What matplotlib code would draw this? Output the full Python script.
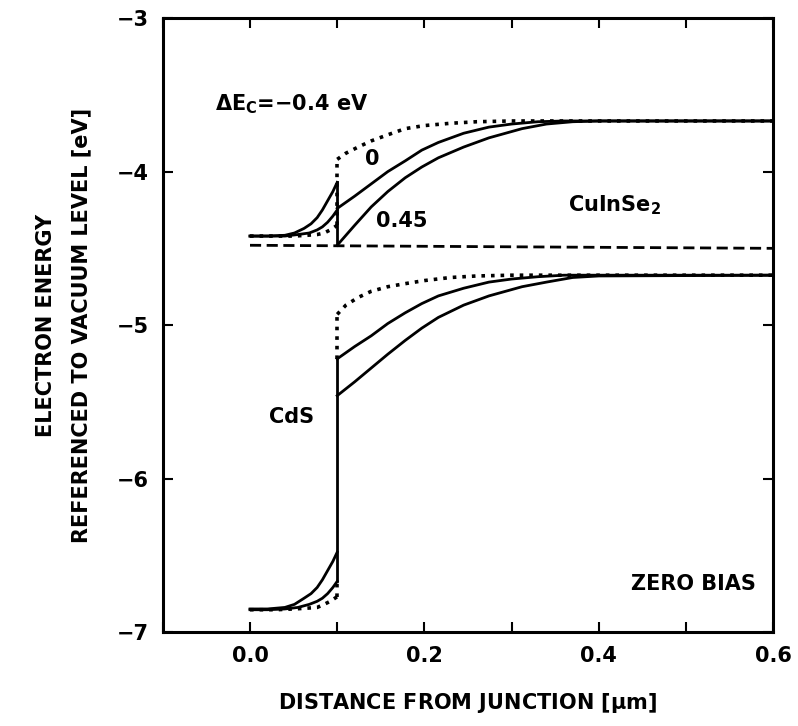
import numpy as np
import matplotlib.pyplot as plt
from matplotlib.ticker import MultipleLocator

# junction position [um]
xj = 0.1

# CdS side (x < xj), conduction band, one curve per offset
cds_x_045 = [0.0, 0.02, 0.04, 0.051, 0.062, 0.070, 0.077, 0.083, 0.089, 0.095, 0.100]
cds_cb_045 = [-4.42, -4.42, -4.415, -4.40, -4.37, -4.34, -4.30, -4.25, -4.19, -4.13, -4.07]
cds_x_0 = [0.0, 0.02, 0.04, 0.055, 0.068, 0.077, 0.083, 0.089, 0.095, 0.100]
cds_cb_0 = [-4.42, -4.42, -4.42, -4.41, -4.40, -4.38, -4.36, -4.33, -4.29, -4.25]
cds_x_m04 = [0.0, 0.03, 0.05, 0.065, 0.077, 0.085, 0.092, 0.100]
cds_cb_m04 = [-4.42, -4.42, -4.42, -4.415, -4.41, -4.40, -4.38, -4.35]

# CdS side, valence band
cds_vb_045 = [-6.85, -6.85, -6.84, -6.82, -6.78, -6.75, -6.71, -6.66, -6.60, -6.54, -6.48]
cds_vb_0 = [-6.855, -6.855, -6.85, -6.84, -6.82, -6.80, -6.78, -6.75, -6.71, -6.67]
cds_vb_m04 = [-6.855, -6.855, -6.85, -6.845, -6.84, -6.82, -6.80, -6.77]

# CuInSe2 side (x > xj)
cis_x_m04 = [0.100, 0.110, 0.124, 0.139, 0.158, 0.178, 0.200, 0.230, 0.260, 0.300, 0.600]
cis_cb_m04 = [-3.92, -3.88, -3.84, -3.80, -3.76, -3.72, -3.70, -3.685, -3.675, -3.67, -3.67]
cis_vb_m04 = [-4.93, -4.87, -4.82, -4.78, -4.75, -4.73, -4.71, -4.69, -4.68, -4.675, -4.675]

cis_x_0 = [0.100, 0.120, 0.139, 0.158, 0.178, 0.197, 0.216, 0.245, 0.274, 0.300, 0.330, 0.360, 0.600]
cis_cb_0 = [-4.24, -4.16, -4.08, -4.00, -3.93, -3.86, -3.81, -3.75, -3.71, -3.69, -3.675, -3.67, -3.67]
cis_vb_0 = [-5.22, -5.14, -5.07, -4.99, -4.92, -4.86, -4.81, -4.76, -4.72, -4.70, -4.685, -4.675, -4.675]

cis_x_045 = [0.100, 0.120, 0.139, 0.158, 0.178, 0.197, 0.216, 0.245, 0.274, 0.312, 0.340, 0.370, 0.400, 0.600]
cis_cb_045 = [-4.48, -4.35, -4.23, -4.13, -4.04, -3.97, -3.91, -3.84, -3.78, -3.72, -3.69, -3.675, -3.67, -3.67]
cis_vb_045 = [-5.46, -5.37, -5.28, -5.19, -5.10, -5.02, -4.95, -4.87, -4.81, -4.75, -4.72, -4.69, -4.68, -4.675]

# dashed reference level
ef_x = [0.0, 0.6]
ef_y = [-4.48, -4.50]

lw = 2.0
plt.rcParams['font.family'] = 'DejaVu Sans'
plt.rcParams['font.weight'] = 'bold'

fig = plt.figure(figsize=(7.98, 7.26), dpi=100)
ax = fig.add_axes([0.204, 0.1295, 0.765, 0.8455])

# CdS side
ax.plot(cds_x_045, cds_cb_045, 'k-', lw=lw)
ax.plot(cds_x_0, cds_cb_0, 'k-', lw=lw)
ax.plot(cds_x_m04, cds_cb_m04, 'k:', lw=lw + 0.6)
ax.plot(cds_x_045, cds_vb_045, 'k-', lw=lw)
ax.plot(cds_x_0, cds_vb_0, 'k-', lw=lw)
ax.plot(cds_x_m04, cds_vb_m04, 'k:', lw=lw + 0.6)

# CuInSe2 side
ax.plot(cis_x_0, cis_cb_0, 'k-', lw=lw)
ax.plot(cis_x_045, cis_cb_045, 'k-', lw=lw)
ax.plot(cis_x_m04, cis_cb_m04, 'k:', lw=lw + 0.6)
ax.plot(cis_x_0, cis_vb_0, 'k-', lw=lw)
ax.plot(cis_x_045, cis_vb_045, 'k-', lw=lw)
ax.plot(cis_x_m04, cis_vb_m04, 'k:', lw=lw + 0.6)

# band offsets at the junction
ax.plot([xj, xj], [cds_cb_045[-1], cis_cb_045[0]], 'k-', lw=lw)
ax.plot([xj, xj], [cds_cb_m04[-1], cis_cb_m04[0]], 'k:', lw=lw + 0.6)
ax.plot([xj, xj], [cds_vb_0[-1], cis_vb_0[0]], 'k-', lw=lw)
ax.plot([xj, xj], [cds_vb_m04[-1], cds_vb_0[-1]], 'k:', lw=lw + 0.6)
ax.plot([xj, xj], [cis_vb_0[0], cis_vb_m04[0]], 'k:', lw=lw + 0.6)

ax.plot(ef_x, ef_y, 'k--', lw=lw, dashes=(4, 2))

ax.set_xlim(-0.1, 0.6)
ax.set_ylim(-7, -3)
ax.xaxis.set_minor_locator(MultipleLocator(0.1))
ax.set_xticks([0.0, 0.2, 0.4, 0.6])
ax.set_xticklabels(['0.0', '0.2', '0.4', '0.6'])
ax.set_yticks([-7, -6, -5, -4, -3])
ax.set_yticklabels(['\u22127', '\u22126', '\u22125', '\u22124', '\u22123'])
ax.tick_params(which='both', direction='in', top=True, right=True,
               length=7, width=1.5, labelsize=15, pad=10)
for s in ax.spines.values():
    s.set_linewidth(2.2)

ax.set_xlabel('DISTANCE FROM JUNCTION [$\\mathbf{\\mu}$m]', fontsize=15,
              fontweight='bold', labelpad=18)
ax.set_ylabel('ELECTRON ENERGY\nREFERENCED TO VACUUM LEVEL [eV]', fontsize=15,
              fontweight='bold', labelpad=18, linespacing=2.0)

ax.text(-0.04, -3.56, '$\\mathbf{\\Delta E_C}$=\u22120.4 eV', fontsize=15, va='center')
ax.text(0.132, -3.92, '0', fontsize=15, va='center')
ax.text(0.145, -4.32, '0.45', fontsize=15, va='center')
ax.text(0.365, -4.22, 'CuInSe$_\\mathbf{2}$', fontsize=15, va='center')
ax.text(0.048, -5.6, 'CdS', fontsize=15, va='center', ha='center')
ax.text(0.58, -6.69, 'ZERO BIAS', fontsize=15, va='center', ha='right')

fig.savefig('out.png', dpi=100)
